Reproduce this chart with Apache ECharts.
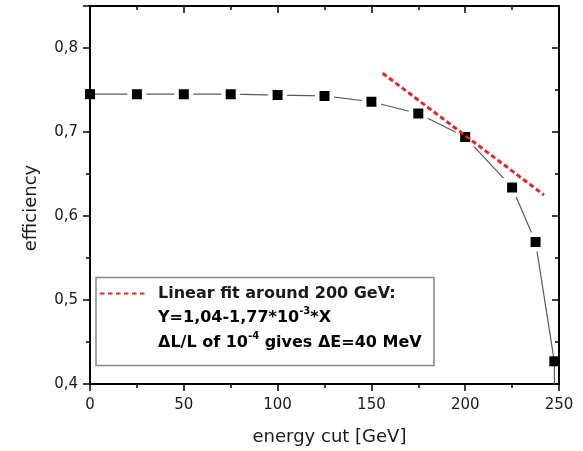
<!DOCTYPE html>
<html><head><meta charset="utf-8">
<script src="https://cdn.jsdelivr.net/npm/echarts@6/dist/echarts.min.js"></script>
<style>html,body{margin:0;padding:0;background:#fff}#c{width:583px;height:451px}</style>
</head><body><div id="c"></div>
<script>
// ---- data ----
const energyCut  = [0, 25, 50, 75, 100, 125, 150, 175, 200, 225, 237.5, 247.5, 248];
const efficiency = [0.745, 0.745, 0.745, 0.745, 0.744, 0.743, 0.736, 0.722, 0.694, 0.634, 0.569, 0.427, 0.30];
const fitX = [156, 242];
const fitY = [0.770, 0.625];
const xTickLabels = ['0', '50', '100', '150', '200', '250'];
const yTickLabels = ['0,4', '0,5', '0,6', '0,7', '0,8'];
const xTitle = 'energy cut [GeV]';
const yTitle = 'efficiency';
const legendLine1 = 'Linear fit around 200 GeV:';
const legendLine2 = ['Y=1,04-1,77*10', '-3', '*X'];
const legendLine3 = ['\u0394L/L of 10', '-4', ' gives \u0394E=40 MeV'];

const FONT = 'DejaVu Sans';
const TXT = '#1a1a1a';
const chart = echarts.init(document.getElementById('c'));

const lastIdx = energyCut.length - 1;
const mainData = energyCut.map((x, i) => {
  const item = { value: [x, efficiency[i]] };
  if (i > 0 && i < lastIdx - 1) {
    item.symbolSize = 14.5;
    item.itemStyle = { color: '#000', borderColor: '#fff', borderWidth: 4.5 };
  }
  return item;
});
const fitData = fitX.map((x, i) => [x, fitY[i]]);

function xAxisCfg(pos, labels) {
  return {
    type: 'value', position: pos, min: 0, max: 250, interval: 50,
    axisLine: { show: true, onZero: false, lineStyle: { color: '#000', width: 2 } },
    axisTick: { show: true, inside: pos === 'top', length: 7, lineStyle: { color: '#000', width: 1.5 } },
    minorTick: { show: true, splitNumber: 2, length: 4, lineStyle: { color: '#000', width: 1.5 } },
    axisLabel: labels ? {
      show: true, margin: 14, fontFamily: FONT, fontSize: 15, color: TXT,
      formatter: v => { const k = Math.round(v / 50); return xTickLabels[k] !== undefined ? xTickLabels[k] : ''; }
    } : { show: false },
    splitLine: { show: false }, minorSplitLine: { show: false },
    name: labels ? xTitle : '', nameLocation: 'middle', nameGap: 44,
    nameTextStyle: { fontFamily: FONT, fontSize: 18, color: TXT, padding: [0, 0, 0, 10] }
  };
}
function yAxisCfg(pos, labels) {
  return {
    type: 'value', position: pos, min: 0.4, max: 0.85, interval: 0.1,
    axisLine: { show: true, onZero: false, lineStyle: { color: '#000', width: 2 } },
    axisTick: { show: true, inside: pos === 'right', length: 7, lineStyle: { color: '#000', width: 1.5 } },
    minorTick: { show: true, splitNumber: 2, length: 4, lineStyle: { color: '#000', width: 1.5 } },
    axisLabel: labels ? {
      show: true, margin: 12, fontFamily: FONT, fontSize: 15, color: TXT, showMaxLabel: false,
      formatter: v => { const k = Math.round((v - 0.4) / 0.1); return (Math.abs(v - 0.4 - k * 0.1) < 1e-6 && yTickLabels[k] !== undefined) ? yTickLabels[k] : ''; }
    } : { show: false },
    splitLine: { show: false }, minorSplitLine: { show: false },
    name: labels ? yTitle : '', nameLocation: 'middle', nameGap: 50, nameRotate: 90,
    nameTextStyle: { fontFamily: FONT, fontSize: 18, color: TXT, padding: [0, 26, 0, 0] }
  };
}

const supRich = {
  n: { fontFamily: FONT, fontSize: 16, fontWeight: 'bold', color: TXT, lineHeight: 24 },
  s: { fontFamily: FONT, fontSize: 10, fontWeight: 'bold', color: TXT, verticalAlign: 'top', lineHeight: 10 }
};
const richStr = parts => '{n|' + parts[0] + '}{s|' + parts[1] + '}{n|' + parts[2] + '}';

chart.setOption({
  animation: false,
  backgroundColor: '#fff',
  grid: { left: 90, right: 24, top: 6, bottom: 67, containLabel: false },
  xAxis: [xAxisCfg('bottom', true), xAxisCfg('top', false)],
  yAxis: [yAxisCfg('left', true), yAxisCfg('right', false)],
  series: [
    {
      type: 'line', xAxisIndex: 0, yAxisIndex: 0, data: mainData, clip: true,
      symbol: 'rect', symbolSize: 10, showAllSymbol: true,
      itemStyle: { color: '#000' },
      lineStyle: { color: '#5a5a5a', width: 1.2 }, z: 2
    },
    {
      type: 'line', xAxisIndex: 0, yAxisIndex: 0, data: fitData, symbol: 'none',
      lineStyle: { color: '#e3262c', width: 3, type: [5, 3] }, z: 5
    }
  ],
  graphic: [
    { type: 'rect', z: 10, shape: { x: 96, y: 277.5, width: 338, height: 88 },
      style: { fill: '#fff', stroke: '#888', lineWidth: 1.5 } },
    { type: 'line', z: 11, shape: { x1: 100, y1: 293.5, x2: 148, y2: 293.5 },
      style: { stroke: '#e3262c', lineWidth: 2, lineDash: [4.5, 3.5] } },
    { type: 'text', z: 11, x: 158, y: 294,
      style: { text: legendLine1, fontFamily: FONT, fontSize: 16, fontWeight: 'bold', fill: TXT, verticalAlign: 'middle', align: 'left' } },
    { type: 'text', z: 11, x: 158, y: 318,
      style: { text: richStr(legendLine2), rich: supRich, verticalAlign: 'middle', align: 'left' } },
    { type: 'text', z: 11, x: 158, y: 343,
      style: { text: richStr(legendLine3), rich: supRich, verticalAlign: 'middle', align: 'left' } }
  ]
});
</script>
</body></html>
